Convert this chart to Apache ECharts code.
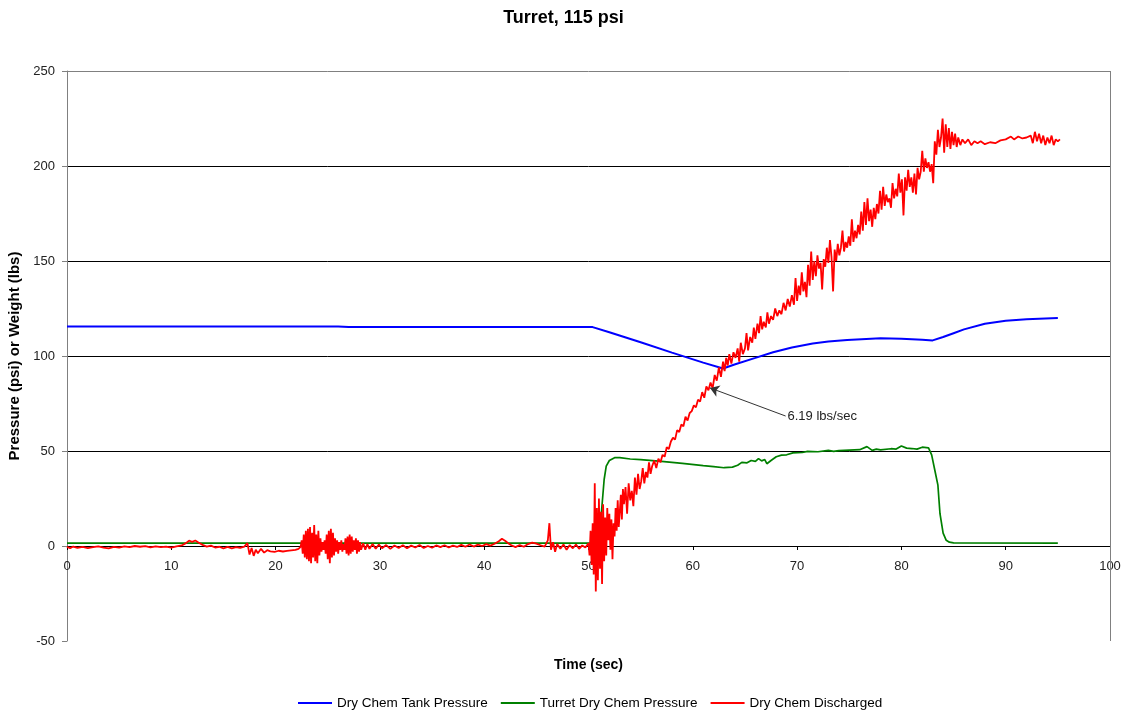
<!DOCTYPE html>
<html><head><meta charset="utf-8">
<script src="https://cdn.jsdelivr.net/npm/echarts@6/dist/echarts.min.js"></script>
<style>html,body{margin:0;padding:0;background:#fff}#c{width:1127px;height:715px}</style>
</head><body><div id="c"></div>
<script>
const xTicks = [0,10,20,30,40,50,60,70,80,90,100];
const yTicks = [-50,0,50,100,150,200,250];

const tankPressure = [[0,115.5],[10,115.5],[20,115.5],[26,115.5],[27,115.2],[30,115.2],[40,115.2],[50,115.3],[50.4,115.2],[52,112.5],[55,107.2],[58,101.8],[61,96.5],[62.9,93.4],[64,95.5],[66,99],[67.7,102],[69.5,104.5],[71.5,106.6],[73,107.6],[74.8,108.4],[78,109.3],[80,109.1],[82,108.6],[83,108.2],[84,110],[85,112],[86,114],[88,117],[90,118.6],[92,119.3],[95,120]];

const turretPressure = [[0,1.5],[50.7,1.5],[51.0,6],[51.2,15],[51.5,35],[51.7,42],[52,45],[52.5,46.5],[53,46.5],[54,45.8],[55,45.5],[57,44.5],[59,43.5],[61,42.3],[62,41.8],[63,41.2],[63.8,41.5],[64.3,42.5],[64.7,44],[65.2,43.8],[65.6,45],[66,44.5],[66.3,46],[66.6,44.8],[66.9,45.5],[67.1,43.3],[67.5,45],[68,47],[68.5,47.8],[69,48],[69.6,49],[70.5,49.2],[71,49.8],[72,49.6],[73,50.3],[73.5,49.8],[74,50.2],[75,50.5],[76,50.7],[76.7,52.3],[77.2,50.3],[77.6,51],[78,50.6],[79,51.2],[79.5,51],[80,52.6],[80.5,51.5],[81,51.3],[81.5,51],[82,52],[82.6,51.6],[82.9,48],[83.2,40],[83.5,32],[83.7,17],[84,6.8],[84.3,3],[84.6,2],[85,1.6],[95,1.5]];

const dischargedQuiet1 = [[0,-0.5],[0.3,-1.2],[0.6,-0.3],[1,-1],[1.5,-0.4],[2,-1.1],[2.5,-0.6],[3,-0.2],[3.5,-0.9],[4,-1.3],[4.5,-0.5],[5,-0.8],[5.5,-0.2],[6,-0.6],[6.5,0],[7,-0.4],[7.5,-0.1],[8,-0.7],[8.5,-0.2],[9,-0.6],[9.5,-0.3],[10,-0.8],[10.5,-0.2],[11,0.3],[11.4,1.5],[11.7,2.8],[12,2.2],[12.3,2.9],[12.6,1.8],[13,0.6],[13.4,-0.3],[13.8,0.2],[14.2,-0.8],[14.6,-0.4],[15,-1.2],[15.4,-0.5],[15.8,-1.3],[16.2,-0.6],[16.6,-1],[17,-0.3],[17.3,1.5],[17.5,-4.5],[17.7,-1],[17.9,-5.2],[18.1,-2],[18.3,-3.8],[18.6,-1.5],[18.9,-3.5],[19.2,-2.2],[19.5,-2.8],[19.9,-3.1],[20.3,-2.5],[20.7,-2.9],[21.1,-2.6],[21.5,-2.3],[21.9,-2],[22.2,-1.5],[22.4,-0.5]];

const dischargedBurst = [[22.5,3],[22.6,-4],[22.7,6],[22.8,-6],[22.9,8],[23.0,-7],[23.1,9],[23.2,-8],[23.3,10],[23.4,-9],[23.5,7],[23.6,-6],[23.7,11],[23.8,-8],[23.9,6],[24.0,-9],[24.1,8],[24.2,-5],[24.3,4],[24.4,-3],[24.5,2],[24.6,-2],[24.7,3],[24.8,-4],[24.9,6],[25.0,-7],[25.1,8],[25.2,-9],[25.3,9],[25.4,-6],[25.5,7],[25.6,-5],[25.7,4],[25.8,-3],[25.9,3],[26.0,-4],[26.1,2],[26.2,-2],[26.3,3],[26.4,-3],[26.5,1],[26.6,-2],[26.7,4],[26.8,-4],[26.9,5],[27.0,-5],[27.1,6],[27.2,-4],[27.3,5],[27.4,-3],[27.5,3],[27.6,-2],[27.7,4],[27.8,-4],[27.9,3],[28.0,-3],[28.1,2],[28.2,-2],[28.4,1.5],[28.6,-2],[28.8,1],[29,-1.5],[29.3,1],[29.6,-1.5],[29.9,0.8],[30.2,-1.2]];

const dischargedQuiet2 = [[30.6,0.5],[31,-1.5],[31.4,0.3],[31.8,-1],[32.2,0.4],[32.6,-1.2],[33,0.2],[33.4,-0.8],[33.8,0.5],[34.2,-1],[34.6,0],[35,-0.9],[35.4,0.3],[35.8,-0.6],[36.2,0.4],[36.6,-0.8],[37,0.2],[37.4,-0.5],[37.8,0.6],[38.2,-0.4],[38.6,0.8],[39,-0.3],[39.4,0.7],[39.8,0],[40.2,1],[40.6,0.2],[41,1.2],[41.4,2.5],[41.7,3.8],[42,2.8],[42.3,1.5],[42.6,0.4],[43,-0.6],[43.4,0.5],[43.8,-0.4],[44.2,1],[44.6,1.8],[45,1.2],[45.4,0.4],[45.8,-0.3],[46.1,3],[46.25,12],[46.4,-2],[46.6,2],[46.8,-3],[47,1],[47.3,-1.5],[47.6,0.8],[47.9,-2],[48.2,0.5],[48.5,-1.2],[48.8,0.8],[49.1,-1.5],[49.4,0.3],[49.7,-0.8],[50,1.5]];

const dischargedOnset = [[50.1,-5],[50.2,8],[50.3,-10],[50.4,12],[50.5,-15],[50.6,33],[50.7,-24],[50.8,20],[50.9,-18],[51.0,25],[51.1,-12],[51.2,18],[51.3,-20],[51.4,22],[51.5,-8],[51.6,15],[51.7,-5],[51.8,20],[51.9,3],[52.0,17],[52.1,-2],[52.2,14],[52.3,-7],[52.4,12]];

const dischargedRamp = [[52.5,5],[52.6,20],[52.7,8],[52.8,24],[52.9,10],[53.0,18],[53.1,27],[53.2,14],[53.3,30],[53.4,22],[53.55,31],[53.7,17],[53.85,33],[54.0,24],[54.15,29],[54.3,21],[54.45,36],[54.6,27],[54.75,38],[54.9,30],[55.05,34],[55.2,41],[55.35,33],[55.5,39],[55.65,36],[55.8,44],[55.95,38],[56.1,42],[56.3,45],[56.5,41],[56.7,46],[56.9,44],[57.1,48],[57.3,47],[57.5,52],[57.7,51],[57.9,55],[58.1,57],[58.3,56],[58.5,61],[58.7,60],[58.9,64],[59.1,63],[59.3,68],[59.5,66],[59.7,70],[59.9,71],[60.1,74],[60.3,73],[60.5,77],[60.7,76],[60.9,81],[61.1,78],[61.3,84],[61.5,82],[61.7,86],[61.9,83],[62.1,90],[62.3,87],[62.5,94],[62.7,89],[62.9,97],[63.05,92],[63.2,99],[63.35,95],[63.5,101],[63.7,96],[63.9,102],[64.1,99],[64.3,104],[64.45,97],[64.6,107],[64.8,101],[65.0,104],[65.15,112],[65.3,103],[65.5,110],[65.7,107],[65.85,115],[66.0,109],[66.2,117],[66.35,112],[66.5,121],[66.65,114],[66.8,118],[67.0,115],[67.15,123],[67.3,117],[67.5,121],[67.7,119],[67.9,125],[68.1,121],[68.3,124],[68.5,122],[68.7,128],[68.9,124],[69.1,130],[69.3,126],[69.5,132],[69.7,127],[69.85,141],[70.0,129],[70.15,137],[70.3,132],[70.45,144],[70.6,134],[70.75,139],[70.9,131],[71.05,148],[71.2,137],[71.35,155],[71.5,140],[71.65,150],[71.8,142],[71.95,153],[72.1,146],[72.25,149],[72.4,135],[72.55,151],[72.7,147],[72.85,157],[73.0,149],[73.15,161],[73.3,152],[73.45,134],[73.6,156],[73.75,150],[73.9,159],[74.05,153],[74.2,157],[74.35,166],[74.5,155],[74.65,160],[74.8,157],[74.95,163],[75.1,158],[75.25,172],[75.4,160],[75.55,166],[75.7,162],[75.85,169],[76.0,164],[76.15,176],[76.3,166],[76.45,181],[76.6,169],[76.75,183],[76.9,171],[77.05,177],[77.2,168],[77.35,178],[77.5,172],[77.65,180],[77.8,175],[77.95,187],[78.1,177],[78.25,189],[78.4,179],[78.55,185],[78.7,181],[78.85,183],[79.0,178],[79.15,191],[79.3,183],[79.45,188],[79.6,184],[79.75,196],[79.9,186],[80.05,193],[80.2,174],[80.35,194],[80.5,187],[80.65,198],[80.8,189],[80.95,194],[81.1,186],[81.25,196],[81.4,185],[81.55,199],[81.7,193],[81.85,197],[82.0,208],[82.15,197],[82.3,204],[82.45,199],[82.6,202],[82.75,197],[82.9,201],[83.05,191],[83.2,213],[83.35,206],[83.5,219],[83.65,210],[83.8,215],[83.95,225],[84.1,207],[84.25,222],[84.4,210],[84.55,220],[84.7,209],[84.85,218],[85.0,211],[85.15,217],[85.3,210],[85.45,215],[85.65,211],[85.85,214],[86.1,212],[86.4,214],[86.7,211],[87.0,213],[87.3,212],[87.6,213],[88.0,211.5],[88.5,212.5],[89.0,212],[89.5,213.5],[90.0,214],[90.5,215.5],[90.8,214],[91.2,215.5],[91.6,214.5],[92.0,215],[92.4,216],[92.6,212],[92.8,218],[93.0,213],[93.2,217],[93.4,212],[93.6,216],[93.8,211],[94.0,215],[94.2,212],[94.4,216],[94.6,211],[94.8,214],[95.0,213],[95.2,214]];

const dischargedAll = dischargedQuiet1.concat(dischargedBurst, dischargedQuiet2, dischargedOnset, dischargedRamp);

const annotationText = '6.19 lbs/sec';
const annotationFrom = [68.9, 68.4];
const annotationTo = [61.65, 83.2];

const FONT = 'Arial, "Liberation Sans", sans-serif';
const chart = echarts.init(document.getElementById('c'), null, {renderer: 'canvas'});
chart.setOption({
  animation: false,
  backgroundColor: '#fff',
  title: {text: 'Turret, 115 psi', left: 'center', top: 4,
    textStyle: {fontFamily: FONT, fontSize: 18, fontWeight: 'bold', color: '#000'}},
  grid: {left: 67, right: 17, top: 71, bottom: 74, outerBoundsMode: 'none', containLabel: false},
  legend: {bottom: 0, left: 293, itemWidth: 34, itemHeight: 2, itemGap: 13, icon: 'rect',
    textStyle: {fontFamily: FONT, fontSize: 13.5, color: '#000'},
    data: ['Dry Chem Tank Pressure', 'Turret Dry Chem Pressure', 'Dry Chem Discharged']},
  xAxis: {type: 'value', min: xTicks[0], max: xTicks[xTicks.length-1], interval: 10,
    name: 'Time (sec)', nameLocation: 'middle', nameGap: 17,
    nameTextStyle: {fontFamily: FONT, fontSize: 14, fontWeight: 'bold', color: '#000'},
    axisLine: {onZero: true, lineStyle: {color: '#000', width: 1}},
    axisTick: {show: true, length: 4, lineStyle: {color: '#000'}},
    axisLabel: {fontFamily: FONT, fontSize: 13, color: '#222', margin: -81},
    splitLine: {show: false}},
  yAxis: {type: 'value', min: yTicks[0], max: yTicks[yTicks.length-1], interval: 50,
    name: 'Pressure (psi) or Weight (lbs)', nameLocation: 'middle', nameGap: 42,
    nameTextStyle: {fontFamily: FONT, fontSize: 15, fontWeight: 'bold', color: '#000'},
    axisLine: {show: true, onZero: false, lineStyle: {color: '#808080', width: 1}},
    axisTick: {show: true, length: 5, lineStyle: {color: '#808080'}},
    axisLabel: {fontFamily: FONT, fontSize: 13, color: '#222', margin: 12},
    splitLine: {show: true, lineStyle: {color: ['transparent','#000','#000','#000','#000','#000','#808080'], width: 1}}},
  series: [
    {name: 'Dry Chem Tank Pressure', type: 'line', data: tankPressure, showSymbol: false, symbol: 'none',
      lineStyle: {color: '#0000ff', width: 2}, itemStyle: {color: '#0000ff'}, z: 3,
      markLine: {silent: true, animation: false, symbol: ['none', 'none'],
        lineStyle: {color: '#808080', width: 1, type: 'solid'}, label: {show: false},
        data: [{xAxis: xTicks[xTicks.length-1]}]}},
    {name: 'Turret Dry Chem Pressure', type: 'line', data: turretPressure, showSymbol: false, symbol: 'none',
      lineStyle: {color: '#008000', width: 1.7}, itemStyle: {color: '#008000'}, z: 2},
    {name: 'Dry Chem Discharged', type: 'line', data: dischargedAll, showSymbol: false, symbol: 'none',
      lineStyle: {color: '#ff0000', width: 1.8}, itemStyle: {color: '#ff0000'}, z: 4,
      markLine: {silent: true, animation: false, symbol: ['none', 'arrow'], symbolSize: 9,
        lineStyle: {color: '#333', width: 1, type: 'solid'},
        label: {show: true, position: 'start', formatter: annotationText, distance: 2,
          fontFamily: FONT, fontSize: 13, color: '#222'},
        data: [[{coord: annotationFrom}, {coord: annotationTo}]]}}
  ]
});
</script></body></html>
